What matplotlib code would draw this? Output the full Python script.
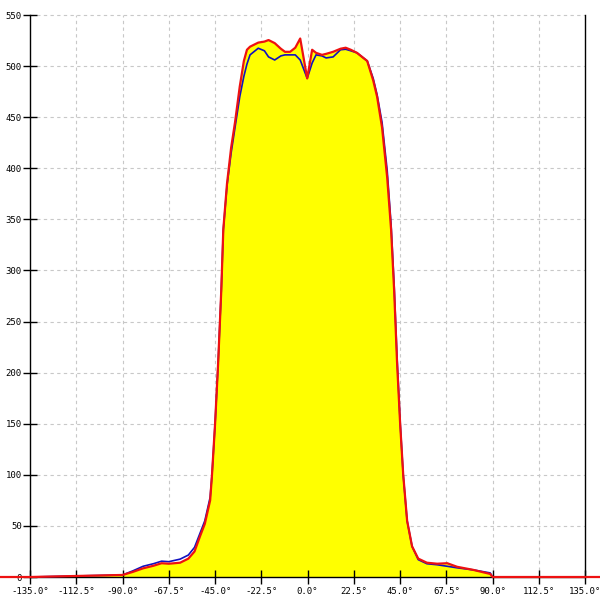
import numpy as np
import matplotlib
matplotlib.use("Agg")
import matplotlib.pyplot as plt

# angle (deg) and the two measured profiles
ang = [-150, -135, -90, -85, -80, -75, -71, -67.5, -62, -58, -55, -52.3, -50, -47.4, -46.5,
       -45, -43.5, -42, -41, -39.2, -37.2, -35.3, -33, -31, -29.5, -28, -24, -21, -19,
       -16, -13, -11, -8.5, -6, -3.6, -0.2, 2.2, 4.1, 7, 9, 12.4, 16, 18.5, 21, 24,
       26.5, 29, 31.9, 33.8, 36.2, 38.7, 40.6, 42.1, 43.5, 45, 46.5, 48.4, 50.8, 53.8,
       58, 63, 67.9, 72.7, 80.5, 88.8, 90, 135, 150]
red = [0, 0, 2, 5, 8.5, 11, 13.5, 13, 14, 18, 25, 40, 52, 75, 100,
       150, 210, 280, 340, 385, 420, 445, 480, 505, 516, 519, 523, 524, 525.5,
       522.5, 517, 514, 514, 518, 527, 488, 516, 513, 511, 512, 514, 517, 518, 516, 513,
       509, 505, 486, 470, 440, 391, 340, 280, 210, 150, 100, 55, 30, 18,
       14, 13, 13.5, 10, 7, 3, 0, 0, 0]
blue = [0, 0, 2, 6, 10.5, 13, 15.5, 15, 17.5, 21.5, 29, 43, 55, 78, 100,
        150, 210, 280, 340, 383, 415, 440, 470, 490, 502, 511, 517.5, 515, 509,
        506, 510, 511, 511, 511, 506, 488, 503, 511, 510, 508, 509, 516, 516.5, 515, 513,
        509, 505, 488, 472, 445, 398, 345, 285, 215, 152, 100, 55, 30, 17,
        13, 12, 10.5, 9, 7, 4, 0, 0, 0]

xticks = np.arange(-135, 135.1, 22.5)
yticks = np.arange(0, 551, 50)

fig = plt.figure(figsize=(6, 6), dpi=100)
ax = fig.add_axes([0, 0, 1, 1])
ax.set_xlim(-149.6, 142.2)
ax.set_ylim(-22.5, 564.7)

# grid drawn only inside the frame
grid_kw = dict(color="#c8c8c8", linestyle=(0, (3, 3)), linewidth=0.8, zorder=0)
ax.hlines(yticks[1:], xticks[0], xticks[-1], **grid_kw)
ax.vlines(xticks[1:-1], 0, yticks[-1], **grid_kw)

ax.fill_between(ang, red, color="#ffff00", lw=0, zorder=1)
ax.plot(ang, blue, color="#1010c0", lw=1.2, zorder=3)
ax.plot(ang, red, color="#ee1111", lw=1.6, zorder=4)

for s in ["top"]:
    ax.spines[s].set_visible(False)
ax.spines["left"].set_position(("data", -135))
ax.spines["left"].set_bounds(0, 550)
ax.spines["right"].set_position(("data", 135))
ax.spines["right"].set_bounds(0, 550)
ax.spines["bottom"].set_position(("data", 0))
ax.spines["bottom"].set_bounds(-135, 135)
for s in ["left", "right", "bottom"]:
    ax.spines[s].set_linewidth(1.0)
    ax.spines[s].set_zorder(2)

ax.set_xticks(xticks)
ax.set_xticklabels(["%.1f°" % v for v in xticks])
ax.set_yticks(yticks)
ax.set_yticklabels([str(v) for v in yticks])
ax.tick_params(axis="both", direction="inout", length=10, width=1,
               labelsize=6.5, pad=2)
ax.tick_params(axis="y", pad=1)
for lab in ax.get_xticklabels() + ax.get_yticklabels():
    lab.set_family("DejaVu Sans Mono")
ax.yaxis.set_ticks_position("left")

fig.savefig("out.png", dpi=100)
